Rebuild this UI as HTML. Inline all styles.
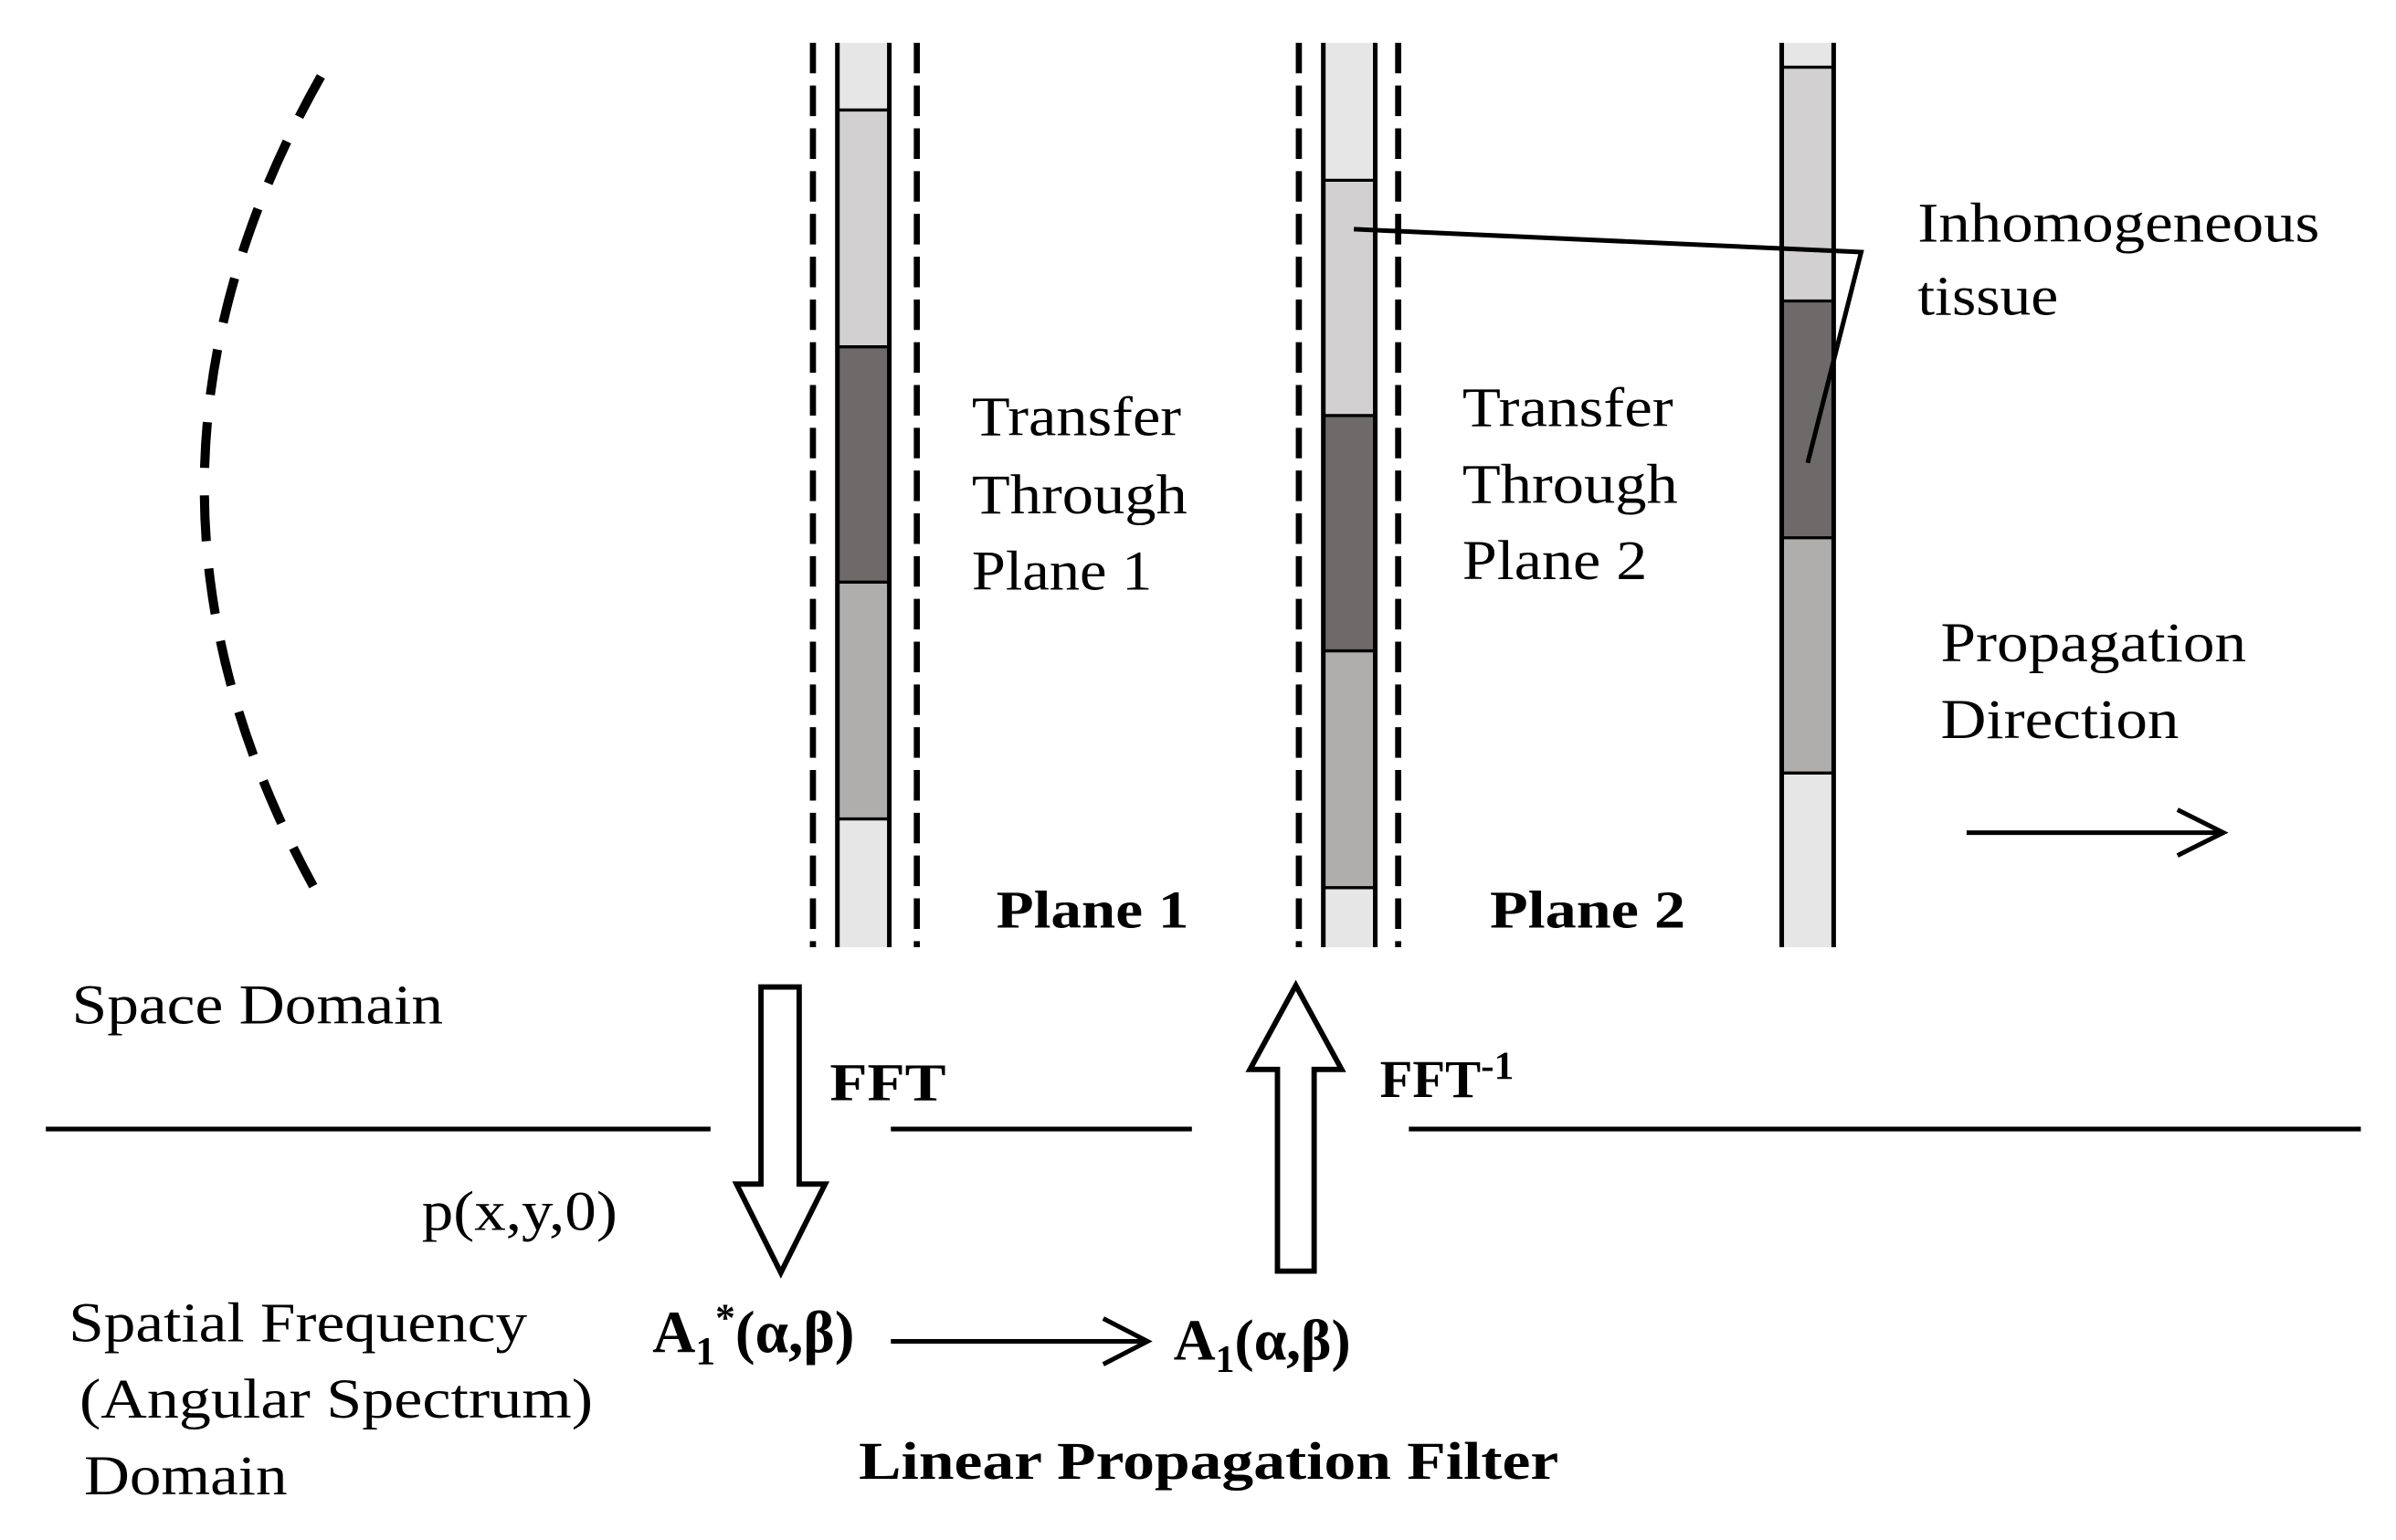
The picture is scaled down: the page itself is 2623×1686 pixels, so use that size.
<!DOCTYPE html>
<html><head><meta charset="utf-8"><style>html,body{margin:0;padding:0;background:#fff}svg{display:block}</style></head>
<body>
<svg width="2623" height="1686" viewBox="0 0 1568 1008" preserveAspectRatio="none" xmlns="http://www.w3.org/2000/svg" font-family="Liberation Serif, serif">
<path d="M210,50 Q60,315 205,580" fill="none" stroke="#000" stroke-width="6" stroke-dasharray="30,18"/>
<!-- column 1 -->
<rect x="548" y="28" width="34" height="44" fill="#e6e6e6"/>
<rect x="548" y="72" width="34" height="155" fill="#d2d0d0"/>
<rect x="548" y="227" width="34" height="154" fill="#6e6a6a"/>
<rect x="548" y="381" width="34" height="155" fill="#b0adad"/>
<rect x="548" y="536" width="34" height="84" fill="#e6e6e6"/>
<g stroke="#000" stroke-width="2"><line x1="548" y1="72" x2="582" y2="72"/><line x1="548" y1="227" x2="582" y2="227"/><line x1="548" y1="381" x2="582" y2="381"/><line x1="548" y1="536" x2="582" y2="536"/></g>
<g stroke="#000" stroke-width="3"><line x1="548" y1="28" x2="548" y2="620"/><line x1="582" y1="28" x2="582" y2="620"/></g>
<g stroke="#000" stroke-width="4" stroke-dasharray="20,8"><line x1="532" y1="28" x2="532" y2="620"/><line x1="600" y1="28" x2="600" y2="620"/></g>
<!-- column 2 -->
<rect x="866" y="28" width="34" height="90" fill="#e6e6e6"/>
<rect x="866" y="118" width="34" height="154" fill="#d2d0d0"/>
<rect x="866" y="272" width="34" height="154" fill="#6e6a6a"/>
<rect x="866" y="426" width="34" height="155" fill="#b0adad"/>
<rect x="866" y="581" width="34" height="39" fill="#e6e6e6"/>
<g stroke="#000" stroke-width="2"><line x1="866" y1="118" x2="900" y2="118"/><line x1="866" y1="272" x2="900" y2="272"/><line x1="866" y1="426" x2="900" y2="426"/><line x1="866" y1="581" x2="900" y2="581"/></g>
<g stroke="#000" stroke-width="3"><line x1="866" y1="28" x2="866" y2="620"/><line x1="900" y1="28" x2="900" y2="620"/></g>
<g stroke="#000" stroke-width="4" stroke-dasharray="20,8"><line x1="850" y1="28" x2="850" y2="620"/><line x1="915" y1="28" x2="915" y2="620"/></g>
<!-- column 3 -->
<rect x="1166" y="28" width="34" height="16" fill="#e6e6e6"/>
<rect x="1166" y="44" width="34" height="153" fill="#d2d0d0"/>
<rect x="1166" y="197" width="34" height="155" fill="#6e6a6a"/>
<rect x="1166" y="352" width="34" height="154" fill="#b0adad"/>
<rect x="1166" y="506" width="34" height="114" fill="#e6e6e6"/>
<g stroke="#000" stroke-width="2"><line x1="1166" y1="44" x2="1200" y2="44"/><line x1="1166" y1="197" x2="1200" y2="197"/><line x1="1166" y1="352" x2="1200" y2="352"/><line x1="1166" y1="506" x2="1200" y2="506"/></g>
<g stroke="#000" stroke-width="3"><line x1="1166" y1="28" x2="1166" y2="620"/><line x1="1200" y1="28" x2="1200" y2="620"/></g>
<!-- pointer lines -->
<polyline points="886,150 1218,165 1183,303" fill="none" stroke="#000" stroke-width="3"/>
<g font-size="37" fill="#000">
<text x="1255" y="158" textLength="263" lengthAdjust="spacingAndGlyphs">Inhomogeneous</text>
<text x="1255" y="206" textLength="92" lengthAdjust="spacingAndGlyphs">tissue</text>
<text x="636" y="285" textLength="137" lengthAdjust="spacingAndGlyphs">Transfer</text>
<text x="636" y="336" textLength="141" lengthAdjust="spacingAndGlyphs">Through</text>
<text x="636" y="386" textLength="118" lengthAdjust="spacingAndGlyphs">Plane 1</text>
<text x="957" y="279" textLength="138" lengthAdjust="spacingAndGlyphs">Transfer</text>
<text x="957" y="329" textLength="141" lengthAdjust="spacingAndGlyphs">Through</text>
<text x="957" y="379" textLength="121" lengthAdjust="spacingAndGlyphs">Plane 2</text>
<text x="1270" y="433" textLength="200" lengthAdjust="spacingAndGlyphs">Propagation</text>
<text x="1270" y="483" textLength="156" lengthAdjust="spacingAndGlyphs">Direction</text>
<text x="47" y="670" textLength="243" lengthAdjust="spacingAndGlyphs">Space Domain</text>
<text x="276" y="805" textLength="128" lengthAdjust="spacingAndGlyphs">p(x,y,0)</text>
<text x="45" y="878" textLength="300" lengthAdjust="spacingAndGlyphs">Spatial Frequency</text>
<text x="52" y="928" textLength="336" lengthAdjust="spacingAndGlyphs">(Angular Spectrum)</text>
<text x="55" y="978" textLength="133" lengthAdjust="spacingAndGlyphs">Domain</text>
</g>
<g font-size="35" font-weight="bold">
<text x="652" y="607" textLength="126" lengthAdjust="spacingAndGlyphs">Plane 1</text>
<text x="975" y="607" textLength="128" lengthAdjust="spacingAndGlyphs">Plane 2</text>
<text x="543" y="720" textLength="76" lengthAdjust="spacingAndGlyphs">FFT</text>
<text x="903" y="718">FFT<tspan font-size="26" dy="-12">-1</tspan></text>
<text x="427" y="885" font-size="39">A<tspan font-size="26" dy="8">1</tspan><tspan font-size="26" dy="-22">*</tspan><tspan dy="14">(α,β)</tspan></text>
<text x="768" y="890" font-size="38">A<tspan font-size="25" dy="8">1</tspan><tspan dy="-8">(α,β)</tspan></text>
<text x="562" y="968" textLength="458" lengthAdjust="spacingAndGlyphs">Linear Propagation Filter</text>
</g>
<line x1="1287" y1="545" x2="1452" y2="545" stroke="#000" stroke-width="3"/>
<polyline points="1425,530 1455,545 1425,560" fill="none" stroke="#000" stroke-width="3"/>
<line x1="583" y1="878" x2="748" y2="878" stroke="#000" stroke-width="3"/>
<polyline points="722,863 751,878 722,893" fill="none" stroke="#000" stroke-width="3"/>
<g stroke="#000" stroke-width="3"><line x1="30" y1="739" x2="465" y2="739"/><line x1="583" y1="739" x2="780" y2="739"/><line x1="922" y1="739" x2="1545" y2="739"/></g>
<polygon points="498,646 523,646 523,775 540,775 511,833 482,775 498,775" fill="#fff" stroke="#000" stroke-width="3.5" stroke-linejoin="miter"/>
<polygon points="836,832 860,832 860,700 878,700 848,645 818,700 836,700" fill="#fff" stroke="#000" stroke-width="3.5"/>
</svg>
</body></html>
